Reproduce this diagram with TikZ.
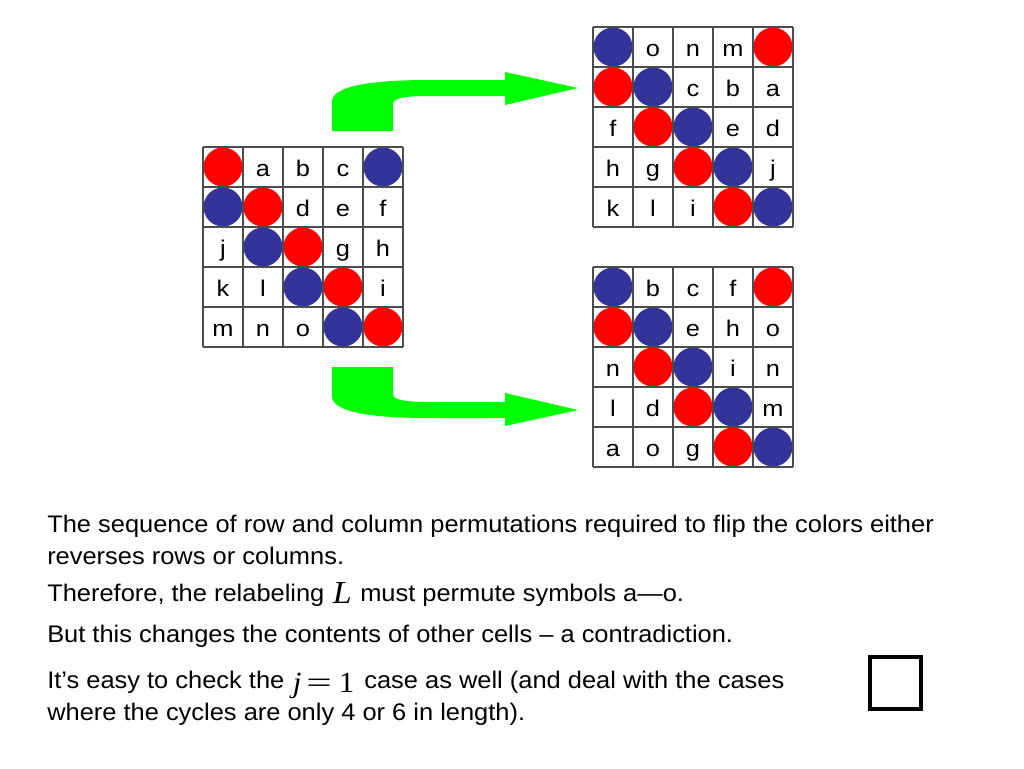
\documentclass[tikz,border=0pt]{standalone}
\usepackage{graphicx}
\usepackage{fontspec}
\setmainfont{Liberation Sans}
\newfontfamily\tms{Liberation Serif}
\definecolor{dotblue}{HTML}{333399}
\definecolor{dotred}{HTML}{FF0000}
\definecolor{arrgreen}{HTML}{00FF00}
\tikzset{
  letter/.style={anchor=base, inner sep=0pt, font=\fontsize{17}{20}\selectfont},
  gridline/.style={draw=black!70, line width=0.9pt},
  txt/.style={anchor=base west, inner sep=0pt, font=\fontsize{18}{22}\selectfont},
  bigarrow/.style={fill=arrgreen},
  qedbox/.style={draw, line width=3.4pt, minimum width=38.25pt, minimum height=39pt, inner sep=0pt}
}
\newcommand\stretchtxt[1]{\scalebox{1.06}[1]{#1}}
\newcommand\stretchlet[1]{\scalebox{1.12}[1]{#1}}
\newcommand\mathL{\hspace{1pt}\raisebox{-2pt}{\tms\itshape\fontsize{24}{24}\selectfont L}\hspace{1pt}}
\newcommand\mathJ{\hspace{1pt}\raisebox{-3pt}{\tms\fontsize{22}{22}\selectfont{\itshape j}\hspace{3.5pt}\scalebox{1.45}[1]{=}\hspace{5pt}1}\hspace{2pt}}
\newcommand\cellgrid[4]{%
  \foreach \rr [count=\r from 0] in {#4} {
    \foreach \e [count=\c from 0] in \rr {
      \if R\e \fill[dotred] (#2+40*\c+20, #3+40*\r+20) circle (19.5);
      \else \if B\e \fill[dotblue] (#2+40*\c+20, #3+40*\r+20) circle (19.5);
      \else \node[letter] (#1-\r-\c) at (#2+40*\c+20, #3+40*\r+29) {\stretchlet{\e}};
      \fi\fi
    }
  }
  \foreach \i in {0,...,5} {
    \draw[gridline] (#2+40*\i, #3) -- (#2+40*\i, #3+200);
    \draw[gridline] (#2, #3+40*\i) -- (#2+200, #3+40*\i);
  }
}
\begin{document}
\begin{tikzpicture}[x=0.75pt,y=-0.75pt]
\useasboundingbox (0,0) rectangle (1024,768);

\cellgrid{L}{203}{147}{{R,a,b,c,B},{B,R,d,e,f},{j,B,R,g,h},{k,l,B,R,i},{m,n,o,B,R}}
\cellgrid{T}{593}{27}{{B,o,n,m,R},{R,B,c,b,a},{f,R,B,e,d},{h,g,R,B,j},{k,l,i,R,B}}
\cellgrid{U}{593}{267}{{B,b,c,f,R},{R,B,e,h,o},{n,R,B,i,n},{l,d,R,B,m},{a,o,g,R,B}}

% upper bent arrow
\fill[bigarrow] (332,131) -- (332,102) .. controls (332,86) and (370,80) .. (430,80)
  -- (505,80) -- (505,72) -- (578,88) -- (505,105) -- (505,96) -- (430,96)
  .. controls (405,96) and (393,98) .. (393,104) -- (393,131) -- cycle;
% lower bent arrow (mirror image)
\begin{scope}[shift={(0,498)}, yscale=-1]
\fill[bigarrow] (332,131) -- (332,102) .. controls (332,86) and (370,80) .. (430,80)
  -- (505,80) -- (505,72) -- (578,88) -- (505,105) -- (505,96) -- (430,96)
  .. controls (405,96) and (393,98) .. (393,104) -- (393,131) -- cycle;
\end{scope}

\node[txt] (t1) at (47,532) {\stretchtxt{The sequence of row and column permutations required to flip the colors either}};
\node[txt] (t2) at (47,564) {\stretchtxt{reverses rows or columns.}};
\node[txt] (t3) at (47,601) {\stretchtxt{Therefore, the relabeling \mathL{} must permute symbols a—o.}};
\node[txt] (t4) at (47,642) {\stretchtxt{But this changes the contents of other cells – a contradiction.}};
\node[txt] (t5) at (47,688) {\stretchtxt{It’s easy to check the \mathJ{} case as well (and deal with the cases}};
\node[txt] (t6) at (47,720) {\stretchtxt{where the cycles are only 4 or 6 in length).}};

\node[qedbox] (qed) at (895.5,683) {};
\end{tikzpicture}
\end{document}
